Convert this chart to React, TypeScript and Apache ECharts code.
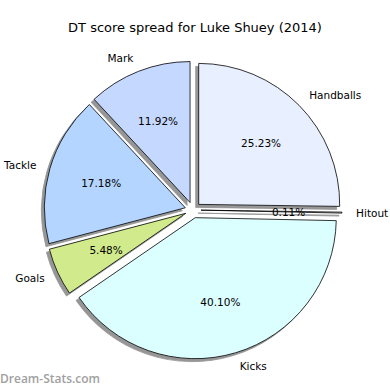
import React, { useEffect, useRef } from "react";
import * as echarts from "echarts";

const title = "DT score spread for Luke Shuey (2014)";
const categories = ["Handballs", "Hitout", "Kicks", "Goals", "Tackle", "Mark"];
const percents = [25.23, 0.11, 40.1, 5.48, 17.18, 11.92];
const colors = ["#e8f0ff", "#e8f0ff", "#dbffff", "#d0ea8c", "#b3d5ff", "#c5d8ff"];
const watermark = "Dream-Stats.com";

const FONT = "DejaVu Sans";

export default function App() {
  const ref = useRef<HTMLDivElement>(null);
  useEffect(() => {
    if (!ref.current) return;
    const chart = echarts.init(ref.current, null, { renderer: "svg" });
    const cx = 193;
    const cy = 210;
    const R = 141;
    const off = 8;
    const mainData = categories.map((name, i) => ({
      name,
      value: percents[i],
      selected: true,
      itemStyle: { color: colors[i] },
    }));
    const pctData = categories.map((name, i) => ({
      name,
      value: percents[i],
      selected: true,
    }));
    chart.setOption({
      animation: false,
      backgroundColor: "#ffffff",
      title: {
        text: title,
        left: "center",
        top: 16,
        textStyle: { fontFamily: FONT, fontSize: 13, fontWeight: "normal", color: "#000" },
      },
      graphic: [
        {
          type: "text",
          left: 0,
          top: 372,
          style: {
            text: watermark,
            fontFamily: "Open Sans",
            fontSize: 12,
            fontWeight: 600,
            fill: "#a0a0a0",
          },
        },
      ],
      series: [
        {
          type: "pie",
          center: [cx, cy],
          radius: [0, R],
          startAngle: 90,
          clockwise: true,
          selectedMode: "multiple",
          selectedOffset: off,
          avoidLabelOverlap: false,
          emphasis: { disabled: true },
          data: mainData,
          itemStyle: {
            borderColor: "#000",
            borderWidth: 0.8,
            shadowColor: "rgba(60,60,60,0.55)",
            shadowBlur: 0.5,
            shadowOffsetX: -3,
            shadowOffsetY: 3,
          },
          label: {
            show: true,
            position: "outside",
            formatter: "{b}",
            fontFamily: FONT,
            fontSize: 10.5,
            color: "#000",
            distanceToLabelLine: 0,
          },
          labelLine: { show: false, length: R * 0.1, length2: 0 },
          z: 2,
        },
        {
          type: "pie",
          center: [cx, cy],
          radius: [0, R * 1.2],
          startAngle: 90,
          clockwise: true,
          selectedMode: "multiple",
          selectedOffset: off,
          avoidLabelOverlap: false,
          silent: true,
          emphasis: { disabled: true },
          data: pctData,
          itemStyle: { color: "rgba(0,0,0,0)", borderWidth: 0 },
          label: {
            show: true,
            position: "inside",
            formatter: (p: any) => p.value.toFixed(2) + "%",
            fontFamily: FONT,
            fontSize: 10.5,
            color: "#000",
          },
          labelLine: { show: false },
          z: 3,
        },
      ],
    });
    return () => chart.dispose();
  }, []);
  return (
    <div
      ref={ref}
      style={{ position: "fixed", left: 0, top: 0, width: 390, height: 390 }}
    />
  );
}
